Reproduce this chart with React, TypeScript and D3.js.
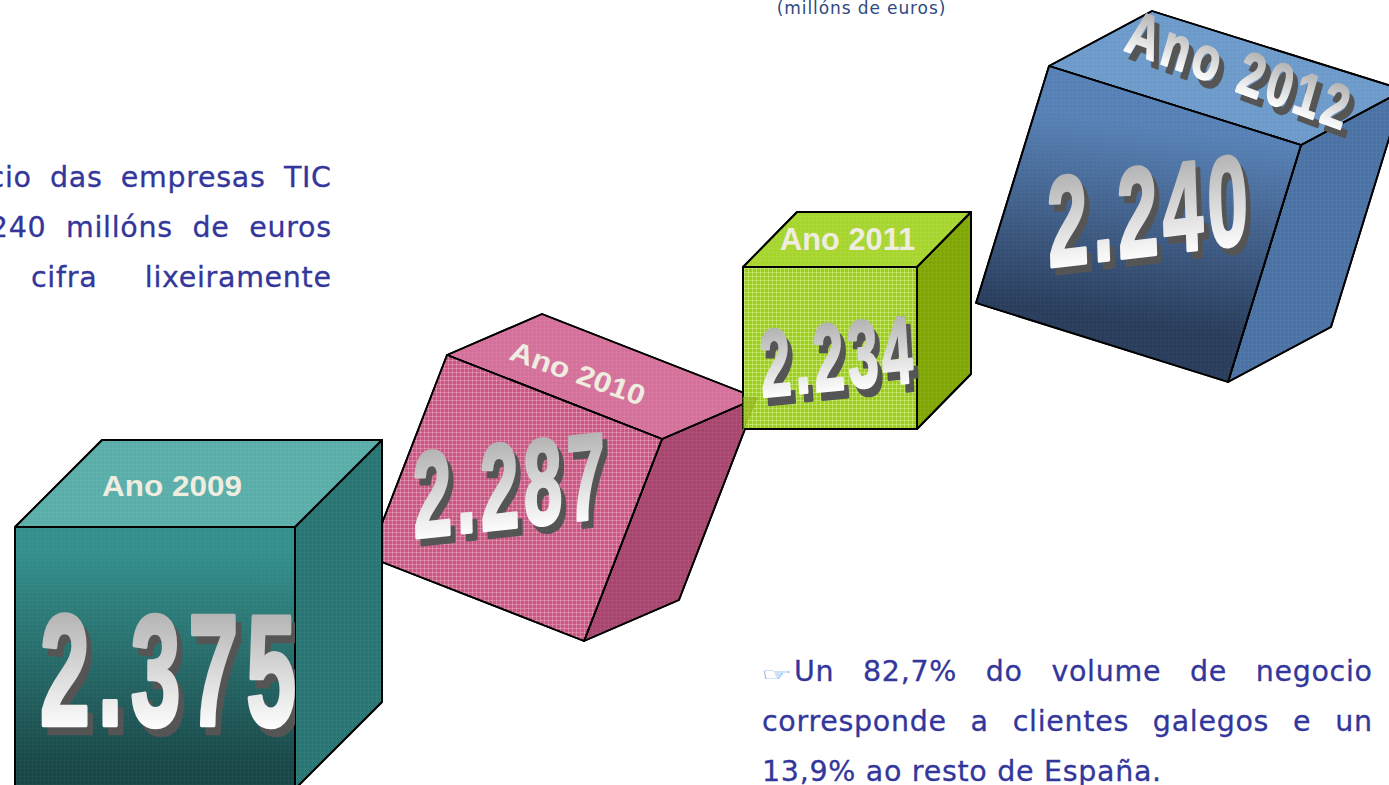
import React from "react";
import * as d3 from "d3";

// ---- data ----
const years = ["2009", "2010", "2011", "2012"];
const values = [2375, 2287, 2234, 2240];
const unitNote = "(millóns de euros)";
const leftLines = ["cio das empresas TIC", "240 millóns de euros", "cifra lixeiramente"];
const rightLines = ["Un 82,7% do volume de negocio", "corresponde a clientes galegos e un", "13,9% ao resto de España."];

// ---- pictorial layout (front-face frame of each cube, depth vector, colours) ----
type P = [number, number];
const layout = [
  { tl: [15, 527] as P, tr: [295, 527] as P, bl: [15, 789] as P, depth: [87, -87] as P, gradV: [0, 262] as P,
    top: "#5aaeaa", side: "#287674", grad: ["#338f8c", "#194747"], grid: null, sideGrid: "rgba(255,255,255,.03)",
    num: { o: [40, 725] as P, x: [296, 725] as P, up: [0, -113] as P, shadow: [5.5, 8] as P, clip: true, ls: 9 },
    lab: { o: [102, 496] as P, x: [242, 496] as P, up: [0, -21.5] as P }, wordArtLabel: false },
  { tl: [447, 355] as P, tr: [662, 439] as P, bl: [369, 557] as P, depth: [95, -41] as P, gradV: [-78, 202] as P,
    top: "#d5709a", side: "#a8456f", grad: ["#c95683", "#c95683"], grid: "rgba(255,225,235,.3)", sideGrid: "rgba(255,255,255,.05)",
    num: { o: [414, 538] as P, x: [606, 517] as P, up: [-2, -87] as P, shadow: [5, 7] as P, clip: false, ls: 7 },
    lab: { o: [508, 359] as P, x: [641, 406] as P, up: [7, -19] as P }, wordArtLabel: false },
  { tl: [743, 267] as P, tr: [917, 267] as P, bl: [743, 429] as P, depth: [54, -55] as P, gradV: [0, 162] as P,
    top: "#a6d52c", side: "#7fa602", grad: ["#9ccc1c", "#9ccc1c"], grid: "rgba(235,255,190,.38)", sideGrid: "rgba(255,255,255,.05)",
    num: { o: [762, 397] as P, x: [914, 382] as P, up: [-4, -68] as P, shadow: [5, 8] as P, clip: false, ls: 7 },
    lab: { o: [780, 250] as P, x: [917, 250] as P, up: [0, -22] as P }, wordArtLabel: false },
  { tl: [1049, 66] as P, tr: [1301, 145] as P, bl: [976, 303] as P, depth: [103, -55] as P, gradV: [-30, 237] as P,
    top: "#6c9aca", side: "#4a72a4", grad: ["#5781b6", "#293d5c"], grid: null, sideGrid: "rgba(255,255,255,.03)",
    num: { o: [1049, 267] as P, x: [1249, 243] as P, up: [-3, -91] as P, shadow: [5, 7] as P, clip: false, ls: 7 },
    lab: { o: [1123, 50] as P, x: [1342, 130] as P, up: [12, -42] as P, ls: 9 }, wordArtLabel: true },
];
const drawOrder = [1, 2, 0, 3];

const add = (a: P, b: P): P => [a[0] + b[0], a[1] + b[1]];
const sub = (a: P, b: P): P => [a[0] - b[0], a[1] - b[1]];
const poly = d3.line<P>().curve(d3.curveLinearClosed);

const euro = d3.formatLocale({ decimal: ",", thousands: ".", grouping: [3], currency: ["", "€"] }).format(",d");

// text box units at font-size 100: advance widths of Liberation Sans Bold
const CAP = 71.6;
const textWidth = (s: string, ls = 0) =>
  d3.sum(Array.from(s), (c) => (c === "." || c === " " ? 27.8 : c === "A" ? 72.2 : c === "n" || c === "o" ? 61.1 : 55.6)) +
  ls * (s.length - 1);

function frameMatrix(f: { o: P; x: P; up: P; ls?: number }, s: string, off: P = [0, 0]) {
  const w = textWidth(s, f.ls ?? 0);
  const ax = (f.x[0] - f.o[0]) / w, ay = (f.x[1] - f.o[1]) / w;
  const bx = -f.up[0] / CAP, by = -f.up[1] / CAP;
  return `matrix(${ax} ${ay} ${bx} ${by} ${f.o[0] + off[0]} ${f.o[1] + off[1]})`;
}

const ART_FONT = "'Liberation Sans', Arial, sans-serif";
const BODY_FONT = "'DejaVu Sans', sans-serif";
const BODY_SIZE = 28.5;
const BODY_LS = 0.7;
const BODY = "#33369a";

let ctx: CanvasRenderingContext2D | null = null;
function bodyWidth(s: string) {
  if (!ctx) ctx = document.createElement("canvas").getContext("2d");
  ctx!.font = `${BODY_SIZE}px ${BODY_FONT}`;
  return ctx!.measureText(s).width + BODY_LS * (s.length - 1);
}

// justified word positions: word `anchor` starts at x0, the last word ends at x1
function justify(line: string, anchor: number, x0: number, x1: number) {
  const words = line.split(" ");
  const w = words.map(bodyWidth);
  const gap = (x1 - x0 - d3.sum(w.slice(anchor))) / (words.length - 1 - anchor);
  const xs: number[] = [];
  let x = x0;
  for (let i = anchor; i < words.length; i++) { xs[i] = x; x += w[i] + gap; }
  x = x0;
  for (let i = anchor - 1; i >= 0; i--) { x -= gap + w[i]; xs[i] = x; }
  return words.map((word, i) => ({ word, x: xs[i] }));
}

const bodyStyle = { fontFamily: BODY_FONT, fontSize: BODY_SIZE, letterSpacing: BODY_LS, fill: BODY, stroke: BODY, strokeWidth: 0.3 };

function BodyLine({ line, anchor, x0, x1, y }: { line: string; anchor: number; x0: number; x1: number; y: number }) {
  return (
    <g>
      {justify(line, anchor, x0, x1).map((d, i) => (
        <text key={i} x={d.x} y={y} {...bodyStyle}>{d.word}</text>
      ))}
    </g>
  );
}

function WordArt({ f, s, id }: { f: any; s: string; id: string }) {
  const common = { fontFamily: ART_FONT, fontWeight: 700, fontSize: 100, letterSpacing: f.ls ?? 0 };
  return (
    <g>
      <text {...common} transform={frameMatrix(f, s, f.shadow ?? [3, 5])} fill="#555" stroke="#555" strokeWidth={3}>{s}</text>
      <text {...common} transform={frameMatrix(f, s)} fill={`url(#${id})`} stroke={`url(#${id})`} strokeWidth={3}>{s}</text>
    </g>
  );
}

function Cube({ i }: { i: number }) {
  const c = layout[i];
  const vDown = sub(c.bl, c.tl);
  const br = add(c.tr, vDown);
  const front: P[] = [c.tl, c.tr, br, c.bl];
  const top: P[] = [c.tl, c.tr, add(c.tr, c.depth), add(c.tl, c.depth)];
  const side: P[] = [c.tr, add(c.tr, c.depth), add(br, c.depth), br];
  const midT: P = [(c.tl[0] + c.tr[0]) / 2, (c.tl[1] + c.tr[1]) / 2];
  const midB = add(midT, c.gradV);
  const label = euro(values[i]);
  const yearLabel = `Ano ${years[i]}`;
  return (
    <g stroke="#000" strokeWidth={1.8} strokeLinejoin="round">
      <defs>
        <linearGradient id={`fg${i}`} gradientUnits="userSpaceOnUse" x1={midT[0]} y1={midT[1]} x2={midB[0]} y2={midB[1]}>
          <stop offset="0.1" stopColor={c.grad[0]} />
          <stop offset="0.92" stopColor={c.grad[1]} />
        </linearGradient>
        <pattern id={`grid${i}`} width={4} height={4} patternUnits="userSpaceOnUse">
          <path d="M0 .5H4M.5 0V4" stroke={c.grid ?? "rgba(255,255,255,.02)"} strokeWidth={1} fill="none" />
        </pattern>
        <pattern id={`sgrid${i}`} width={4} height={4} patternUnits="userSpaceOnUse">
          <path d="M0 .5H4M.5 0V4" stroke={c.sideGrid} strokeWidth={1} fill="none" />
        </pattern>
        <clipPath id={`clip${i}`}><path d={poly(front)!} /></clipPath>
      </defs>
      <path d={poly(side)!} fill={c.side} />
      <path d={poly(side)!} fill={`url(#sgrid${i})`} />
      <path d={poly(top)!} fill={c.top} />
      <path d={poly(top)!} fill={`url(#sgrid${i})`} />
      <path d={poly(front)!} fill={`url(#fg${i})`} />
      <path d={poly(front)!} fill={`url(#grid${i})`} />
      <g stroke="none" clipPath={c.num.clip ? `url(#clip${i})` : undefined}>
        <WordArt f={c.num} s={label} id="art" />
      </g>
      <g stroke="none">
        {c.wordArtLabel ? (
          <WordArt f={{ ...c.lab, shadow: [5, 8] }} s={yearLabel} id="art" />
        ) : (
          <text transform={frameMatrix(c.lab, yearLabel)} fontFamily={ART_FONT} fontWeight={700} fontSize={100} fill="#efece0">
            {yearLabel}
          </text>
        )}
      </g>
    </g>
  );
}

export default function App() {
  const pink = layout[1];
  const pinkTipTop = add(pink.tr, pink.depth);
  const ghost: P[] = [[743, pinkTipTop[1] - 1], [pinkTipTop[0], pinkTipTop[1]], [743, 431]];
  return (
    <svg width={1389} height={785} viewBox="0 0 1389 785"
      style={{ position: "fixed", left: 0, top: 0, display: "block", background: "#fff" }}>
      <defs>
        <linearGradient id="art" x1="0" y1="0" x2="0" y2="1">
          <stop offset="0.05" stopColor="#a6a6a6" />
          <stop offset="0.85" stopColor="#ffffff" />
        </linearGradient>
      </defs>

      <text x={861.5} y={14} textAnchor="middle" fontFamily={BODY_FONT} fontSize={17} letterSpacing={0.9} fill="#2f4a80">{unitNote}</text>

      <BodyLine line={leftLines[0]} anchor={1} x0={50} x1={331} y={187} />
      <BodyLine line={leftLines[1]} anchor={1} x0={66} x1={331} y={237} />
      <BodyLine line={leftLines[2]} anchor={0} x0={31} x1={331} y={287} />

      {drawOrder.map((i) => <Cube key={years[i]} i={i} />)}
      <path d={poly(ghost)!} fill="#8fae1a" fillOpacity={0.55} stroke="#7d9a10" strokeWidth={0.6} strokeDasharray="2 1" />

      <text transform="translate(761 681) scale(1.35 0.72)" fontFamily={BODY_FONT} fontSize={26} fill="#4a9ae8">☞</text>
      <BodyLine line={rightLines[0]} anchor={0} x0={794} x1={1372} y={681} />
      <BodyLine line={rightLines[1]} anchor={0} x0={762} x1={1372} y={731} />
      <text x={762} y={781} {...bodyStyle}>{rightLines[2]}</text>
    </svg>
  );
}
